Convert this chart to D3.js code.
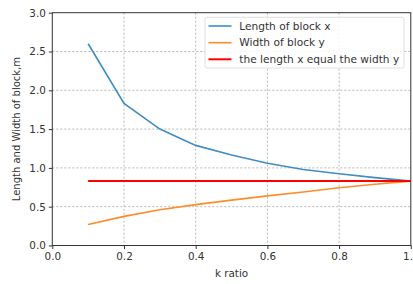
<!DOCTYPE html>
<html><head><meta charset="utf-8">
<script src="https://cdn.jsdelivr.net/npm/d3@7"></script>
<style>body{margin:0;background:#fff;} svg{display:block;}</style>
</head><body>
<script>
const kValues = [0.1,0.2,0.3,0.4,0.5,0.6,0.7,0.8,0.9,1.0];
const lengthX = [2.6,1.83,1.5,1.29,1.165,1.06,0.98,0.925,0.875,0.83];
const widthY  = [0.27,0.375,0.46,0.527,0.585,0.64,0.69,0.745,0.79,0.83];
const equalK = [0.1,1.0];
const equalV = [0.83,0.83];
const xTicks = [0,0.2,0.4,0.6,0.8,1.0];
const yTicks = [0,0.5,1.0,1.5,2.0,2.5,3.0];
const seriesNames = ["Length of block x","Width of block y","the length x equal the width y"];
const seriesColors = ["#3f8dc4","#ff8c2a","#ff0000"];

const W=413,H=284;
const svg=d3.select("body").append("svg").attr("width",W).attr("height",H);
const m={l:52.3,r:410.8,t:12.7,b:245.5};
const x=d3.scaleLinear().domain([0,1]).range([m.l,m.r]);
const y=d3.scaleLinear().domain([0,3]).range([m.b,m.t]);
const font="DejaVu Sans";

// grid
const g=svg.append("g");
g.selectAll(".gx").data(xTicks.slice(1,-1)).enter().append("line")
 .attr("x1",d=>x(d)).attr("x2",d=>x(d)).attr("y1",m.t).attr("y2",m.b)
 .attr("stroke","#b8b8b8").attr("stroke-width",1).attr("stroke-dasharray","2,2");
g.selectAll(".gy").data(yTicks.slice(1,-1)).enter().append("line")
 .attr("y1",d=>y(d)).attr("y2",d=>y(d)).attr("x1",m.l).attr("x2",m.r)
 .attr("stroke","#b8b8b8").attr("stroke-width",1).attr("stroke-dasharray","2,2");

const line=d3.line().x(d=>x(d[0])).y(d=>y(d[1]));
svg.append("path").datum(kValues.map((k,i)=>[k,lengthX[i]])).attr("d",line)
 .attr("fill","none").attr("stroke",seriesColors[0]).attr("stroke-width",1.6);
svg.append("path").datum(kValues.map((k,i)=>[k,widthY[i]])).attr("d",line)
 .attr("fill","none").attr("stroke",seriesColors[1]).attr("stroke-width",1.6);
svg.append("path").datum(equalK.map((k,i)=>[k,equalV[i]])).attr("d",line)
 .attr("fill","none").attr("stroke",seriesColors[2]).attr("stroke-width",2);

// axes
const xa=svg.append("g").attr("transform",`translate(0,${m.b})`)
 .call(d3.axisBottom(x).tickValues(xTicks).tickFormat(d3.format(".1f")).tickSizeOuter(0).tickSize(3.5).tickPadding(3.5));
const ya=svg.append("g").attr("transform",`translate(${m.l},0)`)
 .call(d3.axisLeft(y).tickValues(yTicks).tickFormat(d3.format(".1f")).tickSizeOuter(0).tickSize(3.5).tickPadding(3));
[xa,ya].forEach(a=>{a.select(".domain").remove();
 a.selectAll("line").attr("stroke","#333");
 a.selectAll("text").attr("font-family",font).attr("font-size",10.4).attr("fill","#333");});
// spines
svg.append("rect").attr("x",m.l).attr("y",m.t).attr("width",m.r-m.l).attr("height",m.b-m.t)
 .attr("fill","none").attr("stroke","#333").attr("stroke-width",1);

svg.append("text").attr("x",(m.l+m.r)/2).attr("y",277).attr("text-anchor","middle")
 .attr("font-family",font).attr("font-size",10.4).attr("fill","#333").text("k ratio");
svg.append("text").attr("transform",`translate(19.5,${(m.t+m.b)/2}) rotate(-90)`).attr("text-anchor","middle")
 .attr("font-family",font).attr("font-size",10).attr("fill","#333").text("Length and Width of block,m");

// legend
const lg=svg.append("g");
lg.append("rect").attr("x",205).attr("y",17.3).attr("width",199).attr("height",50.7).attr("rx",2)
 .attr("fill","#fff").attr("fill-opacity",0.85).attr("stroke","#d8d8d8").attr("stroke-width",0.8);
const rows=[26,42.7,59.3];
seriesNames.forEach((n,i)=>{
 lg.append("line").attr("x1",208.5).attr("x2",231.5).attr("y1",rows[i]).attr("y2",rows[i])
  .attr("stroke",seriesColors[i]).attr("stroke-width",i==2?2:1.6);
 lg.append("text").attr("x",239.3).attr("y",rows[i]).attr("dy","0.35em")
  .attr("font-family",font).attr("font-size",10.6).attr("fill","#333").text(n);
});
</script>
</body></html>
